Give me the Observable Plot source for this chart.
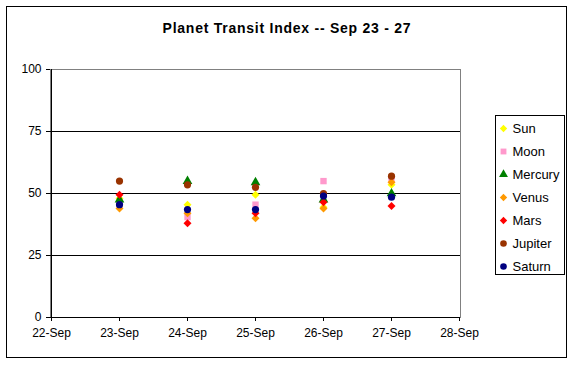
<!DOCTYPE html>
<html>
<head>
<meta charset="utf-8">
<script src="https://cdn.jsdelivr.net/npm/d3@7"></script>
<script src="https://cdn.jsdelivr.net/npm/@observablehq/plot@0.6"></script>
<style>
  html, body { margin: 0; padding: 0; background: #fff; }
  #wrap { position: relative; width: 574px; height: 365px; overflow: hidden; font-family: Arial, "Liberation Sans", sans-serif; }
  #border { position: absolute; left: 6px; top: 6px; width: 561px; height: 352px; border: 1px solid #000; box-sizing: border-box; }
  #title { position: absolute; left: 0; top: 20px; width: 574px; text-align: center; font-weight: bold; font-size: 14px; letter-spacing: 0.75px; color: #000; }
  #chart { position: absolute; left: 0; top: 50px; }
  #legend { position: absolute; left: 495px; top: 115px; }
  #legend svg { border: 1px solid #000; display: block; overflow: visible; }
</style>
</head>
<body>
<div id="wrap">
  <div id="border"></div>
  <div id="title">Planet Transit Index -- Sep 23 - 27</div>
  <div id="chart"></div>
  <div id="legend"></div>
</div>
<script>
const xLabels = ["22-Sep", "23-Sep", "24-Sep", "25-Sep", "26-Sep", "27-Sep", "28-Sep"];
const dates = ["23-Sep", "24-Sep", "25-Sep", "26-Sep", "27-Sep"];
const yTicks = [0, 25, 50, 75, 100];

const planets = ["Sun", "Moon", "Mercury", "Venus", "Mars", "Jupiter", "Saturn"];
const colors = ["#FFFF00", "#FF99CC", "#008000", "#FF9900", "#FF0000", "#993300", "#000080"];
const symbols = ["diamond2", "square", "triangle", "diamond2", "diamond2", "circle", "circle"];

const sun     = [48,   45.5, 49.5, 44.5, 53.5];
const moon    = [46,   40.5, 45.5, 55,   55.5];
const mercury = [47.5, 55,   54.5, 47.5, 50];
const venus   = [44,   42,   40,   44,   54.5];
const mars    = [49.5, 38,   42,   46.5, 45];
const jupiter = [55,   53.5, 52.5, 50,   57];
const saturn  = [45.5, 43.5, 43.5, 49,   48.5];

const series = [sun, moon, mercury, venus, mars, jupiter, saturn];
const rows = [];
series.forEach((vals, i) => vals.forEach((v, j) => rows.push({planet: planets[i], date: dates[j], value: v})));

const chart = Plot.plot({
  width: 574,
  height: 300,
  marginLeft: 50,
  marginRight: 114,
  marginTop: 19,
  marginBottom: 33,
  style: {fontFamily: "Arial, 'Liberation Sans', sans-serif", fontSize: "12px", color: "#000", background: "transparent"},
  x: {type: "point", domain: xLabels, padding: 0},
  y: {domain: [0, 100]},
  color: {domain: planets, range: colors},
  symbol: {domain: planets, range: symbols},
  marks: [
    Plot.frame({stroke: "#808080"}),
    Plot.ruleY([25, 50, 75], {stroke: "#000", strokeWidth: 1}),
    Plot.ruleY([0], {stroke: "#000"}),
    Plot.ruleX([xLabels[0]], {stroke: "#000"}),
    Plot.axisY({ticks: yTicks, tickSize: 4, tickPadding: 5, label: null, fontSize: 12}),
    Plot.axisX({tickSize: 4, tickPadding: 7, label: null, fontSize: 12}),
    Plot.dot(rows, {x: "date", y: "value", fill: "planet", symbol: "planet", r: 3.6, stroke: "none"})
  ]
});
document.getElementById("chart").appendChild(chart);

const legend = Plot.plot({
  width: 68,
  height: 158,
  marginTop: 11,
  marginBottom: 8,
  marginLeft: 0,
  marginRight: 0,
  style: {fontFamily: "Arial, 'Liberation Sans', sans-serif", fontSize: "13px", color: "#000", background: "#fff"},
  x: {domain: [0, 68], range: [0, 68], axis: null},
  y: {type: "point", domain: planets, padding: 0, axis: null},
  color: {domain: planets, range: colors},
  symbol: {domain: planets, range: symbols},
  marks: [
    Plot.dot(planets, {x: () => 7, y: d => d, fill: d => d, symbol: d => d, r: 3.3}),
    Plot.text(planets, {x: () => 16, y: d => d, text: d => d, textAnchor: "start", fill: "#000", fontSize: 13})
  ]
});
document.getElementById("legend").appendChild(legend);
</script>
</body>
</html>
